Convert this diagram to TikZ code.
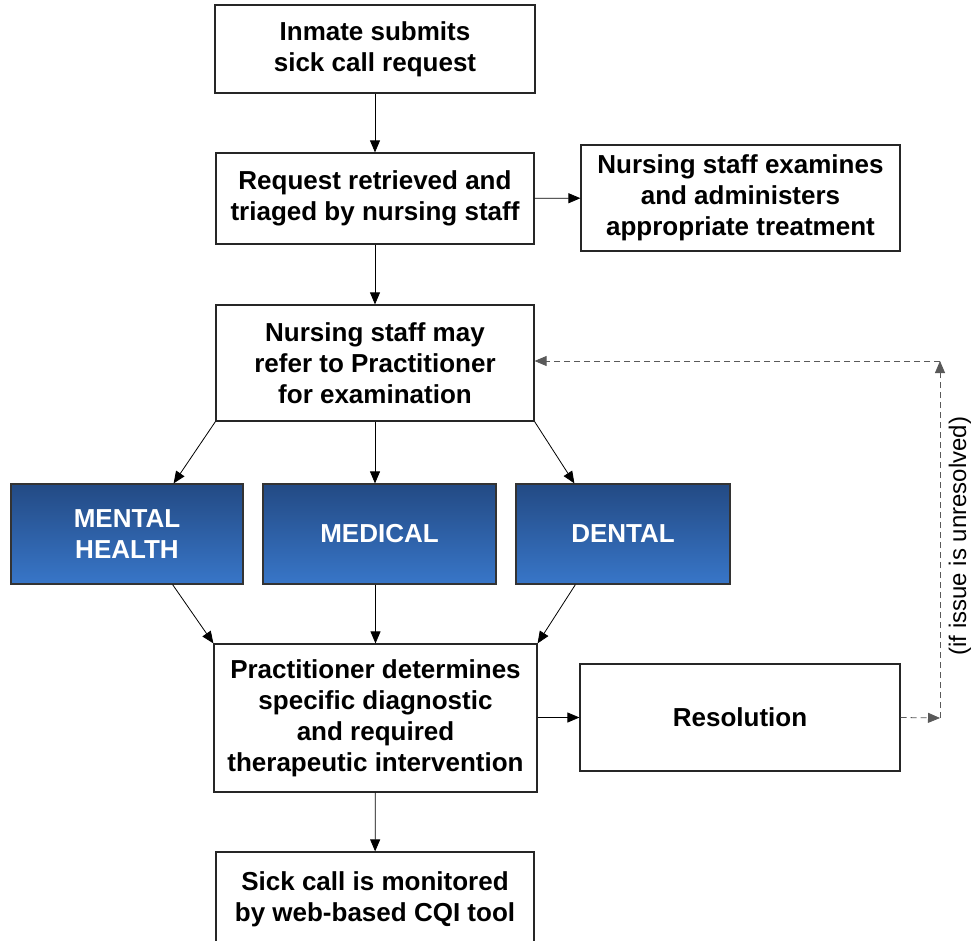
\documentclass[tikz,border=0pt]{standalone}
\usepackage{fontspec}
\setmainfont{Liberation Sans}
\usetikzlibrary{arrows.meta}
\definecolor{bluetop}{RGB}{35,74,132}
\definecolor{bluebot}{RGB}{56,118,200}

\begin{document}
\begin{tikzpicture}[x=1pt, y=-1pt,
 stepbox/.style={draw=black!85, line width=1.2pt, rectangle, inner sep=0pt, align=center,
  font=\bfseries\fontsize{26}{31}\selectfont},
 areabox/.style={draw=black!80, line width=1.2pt, rectangle, inner sep=0pt, align=center,
  top color=bluetop, bottom color=bluebot, text=white,
  font=\bfseries\fontsize{26}{31}\selectfont, minimum height=100pt},
 flow/.style={line width=0.8pt, -{Triangle[length=12pt,width=10pt]}},
 back/.style={line width=0.8pt, dash pattern=on 6pt off 4pt, gray!70!black,
  -{Triangle[length=12pt,width=10pt]}}]
 \useasboundingbox (0,0) rectangle (971,941);
 \clip (0,0) rectangle (971,941);

 \node[stepbox, minimum width=320pt, minimum height=88pt] (submit) at (375,49)
  {Inmate submits\\sick call request};
 \node[stepbox, minimum width=318pt, minimum height=91pt] (triage) at (375,198.5)
  {Request retrieved and\\triaged by nursing staff};
 \node[stepbox, minimum width=319pt, minimum height=106pt] (nurse) at (740.5,198)
  {Nursing staff examines\\and administers\\appropriate treatment};
 \node[stepbox, minimum width=318pt, minimum height=116pt] (refer) at (375,363)
  {Nursing staff may\\refer to Practitioner\\for examination};

 \node[areabox, minimum width=232pt] (mental) at (127,534) {MENTAL\\HEALTH};
 \node[areabox, minimum width=233pt] (medical) at (379.5,534) {MEDICAL};
 \node[areabox, minimum width=214pt] (dental) at (623,534) {DENTAL};

 \node[stepbox, minimum width=323pt, minimum height=148pt] (determ) at (375.5,718)
  {Practitioner determines\\specific diagnostic\\and required\\therapeutic intervention};
 \node[stepbox, minimum width=320pt, minimum height=107pt] (resol) at (740,717.5)
  {Resolution};
 \node[stepbox, minimum width=318pt, minimum height=94pt] (monitor) at (375,899)
  {Sick call is monitored\\by web-based CQI tool};

 \coordinate (turnlow) at (940,718);
 \coordinate (turnhigh) at (940,361);

 \draw[flow] (submit) -- (triage);
 \draw[flow] (triage) -- (nurse);
 \draw[flow] (triage) -- (refer);
 \draw[flow] (refer.south west) -- ([xshift=-70pt]mental.north east);
 \draw[flow] (refer.south) -- (refer.south |- medical.north);
 \draw[flow] (refer.south east) -- ([xshift=59pt]dental.north west);
 \draw[flow] ([xshift=-71pt]mental.south east) -- (determ.north west);
 \draw[flow] (medical.south -| determ.north) -- (determ.north);
 \draw[flow] ([xshift=60pt]dental.south west) -- (determ.north east);
 \draw[flow] (determ.east |- resol.west) -- (resol.west);
 \draw[flow] (determ) -- (monitor);

 \draw[back] (resol.east) -- (turnlow);
 \draw[back] (turnlow) -- (turnhigh);
 \draw[back] (turnhigh) -- (turnhigh -| refer.east);
 \node[rotate=90, font=\fontsize{24}{28}\selectfont] (unresolved) at (960,536)
  {(if issue is unresolved)};
\end{tikzpicture}
\end{document}
